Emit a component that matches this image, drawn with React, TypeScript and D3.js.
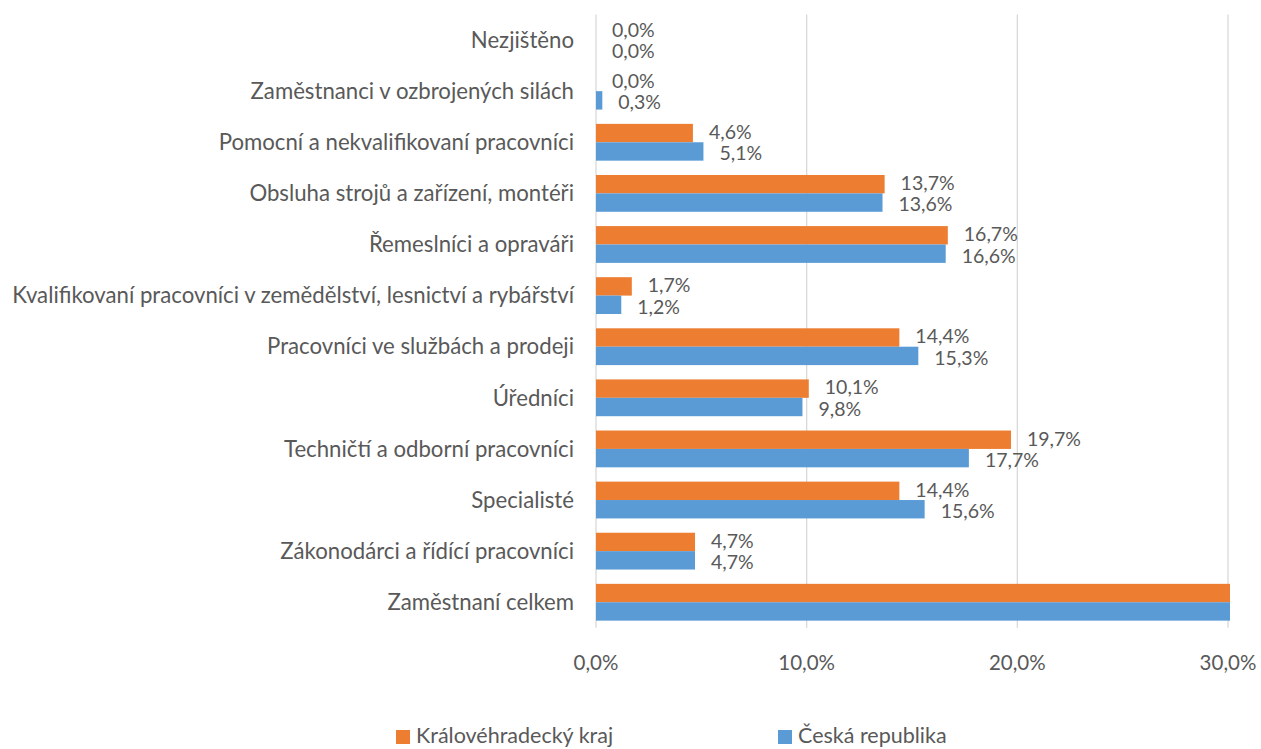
import React from "react";
import * as d3 from "d3";

// categories top -> bottom
const categories = [
  "Nezjištěno",
  "Zaměstnanci v ozbrojených silách",
  "Pomocní a nekvalifikovaní pracovníci",
  "Obsluha strojů a zařízení, montéři",
  "Řemeslníci a opraváři",
  "Kvalifikovaní pracovníci v zemědělství, lesnictví a rybářství",
  "Pracovníci ve službách a prodeji",
  "Úředníci",
  "Techničtí a odborní pracovníci",
  "Specialisté",
  "Zákonodárci a řídící pracovníci",
  "Zaměstnaní celkem",
];

const krajValues = [0.0, 0.0, 4.6, 13.7, 16.7, 1.7, 14.4, 10.1, 19.7, 14.4, 4.7, 100];
const crValues = [0.0, 0.3, 5.1, 13.6, 16.6, 1.2, 15.3, 9.8, 17.7, 15.6, 4.7, 100];

const series = [
  { name: "Královéhradecký kraj", color: "#ED7D31", values: krajValues },
  { name: "Česká republika", color: "#5B9BD5", values: crValues },
];

const xTicks = [0, 10, 20, 30];

const W = 1261;
const H = 749;
const FONT = "Lato, 'Open Sans', sans-serif";
const TEXT = "#595959";
const fmt = (v: number) => v.toFixed(1).replace(".", ",") + "%";

export default function App() {
  const x = d3.scaleLinear().domain([0, 30]).range([596, 1228]);
  const y = d3.scaleBand<string>().domain(categories).range([14.5, 627.8]).padding(0);
  const step = y.step();
  const barH = step * 0.36;
  const xMax = x(30) + 2;

  return (
    <svg
      width={W}
      height={H}
      style={{ position: "absolute", left: 0, top: 0, background: "#fff" }}
      fontFamily={FONT}
    >
      {/* gridlines */}
      {xTicks.map(t => (
        <line key={t} x1={x(t)} x2={x(t)} y1={14.5} y2={627.8} stroke="#D9D9D9" strokeWidth={1.3} />
      ))}

      {/* bars + labels */}
      {categories.map((c, i) => {
        const cy = (y(c) ?? 0) + step / 2;
        return (
          <g key={c}>
            {series.map((s, si) => {
              const v = s.values[i];
              const y0 = cy - barH + si * barH;
              const xe = Math.min(x(v), xMax);
              return (
                <g key={s.name}>
                  {v > 0 && (
                    <rect x={x(0)} y={y0} width={xe - x(0)} height={barH} fill={s.color} />
                  )}
                  {v < 100 && (
                    <text
                      x={xe + 16}
                      y={y0 + barH / 2 + (si === 0 ? -1 : 2)}
                      dy="0.35em"
                      fontSize={19.5}
                      fill={TEXT}
                    >
                      {fmt(v)}
                    </text>
                  )}
                </g>
              );
            })}
            <text x={574} y={cy} dy="0.35em" textAnchor="end" fontSize={22.2} fill={TEXT}>
              {c}
            </text>
          </g>
        );
      })}

      {/* x tick labels */}
      {xTicks.map(t => (
        <text key={t} x={x(t)} y={663} dy="0.35em" textAnchor="middle" fontSize={20.5} fill={TEXT}>
          {fmt(t)}
        </text>
      ))}

      {/* legend */}
      {series.map((s, i) => {
        const lx = i === 0 ? 396 : 778;
        return (
          <g key={s.name}>
            <rect x={lx} y={730} width={14} height={14} fill={s.color} />
            <text x={lx + 20} y={735} dy="0.35em" fontSize={21.5} fill={TEXT}>
              {s.name}
            </text>
          </g>
        );
      })}
    </svg>
  );
}
